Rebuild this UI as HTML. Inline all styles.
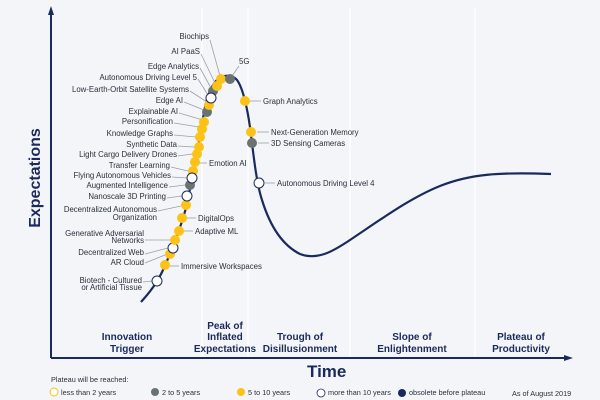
<!DOCTYPE html>
<html><head><meta charset="utf-8"><style>
html,body{margin:0;padding:0;background:#f3f5f8;}
svg{display:block;font-family:"Liberation Sans",sans-serif;}
.l{font-size:7.8px;fill:#2a2f3a;}
.p{font-size:10px;font-weight:bold;fill:#1b2a5c;text-anchor:middle;}
.g{font-size:7.3px;fill:#2a2f3a;}
</style></head><body>
<svg width="600" height="400" viewBox="0 0 600 400">
<rect width="600" height="400" fill="#f3f5f8"/>
<g stroke="#ffffff" stroke-width="1.5">
<line x1="202" y1="8" x2="202" y2="357"/><line x1="248" y1="8" x2="248" y2="357"/>
<line x1="350" y1="8" x2="350" y2="357"/><line x1="475" y1="8" x2="475" y2="357"/>
</g>
<g stroke="#1b2a5c" stroke-width="2" fill="none">
<line x1="51" y1="10" x2="51" y2="358"/><line x1="51" y1="358" x2="568" y2="358"/>
</g>
<polygon points="51,6 48,15 54,15" fill="#1b2a5c"/>
<polygon points="573,358 564,355 564,361" fill="#1b2a5c"/>
<path d="M141,302 C150,292 157,283 163,270 C172,250 180,230 186,208 C192,180 198,150 203,118 C206,100 210,86 218,79 C223,75 232,74 237,80 C243,88 248,110 251,135 C254,160 257,185 262,200 C270,226 282,245 300,254 C318,261 335,250 350,240 C380,220 410,198 440,186 C470,174 500,172 551,174" fill="none" stroke="#1b2a5c" stroke-width="2.2"/>
<g stroke="#9aa0a8" stroke-width="0.8">
<line x1="210" y1="40" x2="220" y2="76"/><line x1="201" y1="54" x2="215" y2="83"/>
<line x1="200" y1="68" x2="211" y2="88"/><line x1="198" y1="79" x2="208" y2="95"/>
<line x1="190" y1="91" x2="207" y2="102"/><line x1="184" y1="102" x2="204" y2="110"/>
<line x1="179" y1="113" x2="203" y2="120"/><line x1="174" y1="123" x2="199" y2="127"/>
<line x1="174" y1="135" x2="196" y2="137"/><line x1="178" y1="146" x2="194" y2="147"/>
<line x1="178" y1="156" x2="192" y2="154"/><line x1="171" y1="167" x2="188" y2="171"/>
<line x1="172" y1="177" x2="187" y2="178"/><line x1="169" y1="187" x2="185" y2="185"/>
<line x1="167" y1="198" x2="182" y2="196"/><line x1="158" y1="211" x2="181" y2="206"/>
<line x1="145" y1="240" x2="170" y2="240"/><line x1="145" y1="254" x2="168" y2="248"/>
<line x1="145" y1="263" x2="165" y2="255"/><line x1="143" y1="282" x2="152" y2="281"/>
<line x1="239" y1="66" x2="232" y2="76"/><line x1="199" y1="163" x2="207" y2="163"/>
<line x1="250" y1="101" x2="261" y2="101"/><line x1="257" y1="132" x2="269" y2="132"/>
<line x1="258" y1="143" x2="269" y2="143"/><line x1="265" y1="183" x2="275" y2="183"/>
<line x1="187" y1="218" x2="196" y2="218"/><line x1="184" y1="231" x2="193" y2="231"/>
<line x1="170" y1="266" x2="179" y2="266"/>
</g>
<g stroke-width="1">
<circle cx="157" cy="281" r="5" fill="#fff" stroke="#1b2a5c"/>
<circle cx="165" cy="265" r="5" fill="#fcc216"/>
<circle cx="170" cy="254" r="5" fill="#fcc216"/>
<circle cx="173" cy="248" r="5" fill="#fff" stroke="#1b2a5c"/>
<circle cx="175" cy="240" r="5" fill="#fcc216"/>
<circle cx="179" cy="231" r="5" fill="#fcc216"/>
<circle cx="182" cy="218" r="5" fill="#fcc216"/>
<circle cx="186" cy="205" r="5" fill="#fcc216"/>
<circle cx="187" cy="196" r="5" fill="#fff" stroke="#1b2a5c"/>
<circle cx="190" cy="185" r="5" fill="#6b7274"/>
<circle cx="193" cy="171" r="5" fill="#fcc216"/>
<circle cx="192" cy="178" r="5" fill="#fff" stroke="#1b2a5c"/>
<circle cx="195" cy="162" r="5" fill="#fcc216"/>
<circle cx="197" cy="154" r="5" fill="#fcc216"/>
<circle cx="199" cy="147" r="5" fill="#fcc216"/>
<circle cx="200" cy="137" r="5" fill="#fcc216"/>
<circle cx="202" cy="129" r="5" fill="#fcc216"/>
<circle cx="204" cy="122" r="5" fill="#fcc216"/>
<circle cx="207" cy="112" r="5" fill="#6b7274"/>
<circle cx="209" cy="105" r="5" fill="#fcc216"/>
<circle cx="213" cy="91" r="5" fill="#6b7274"/>
<circle cx="211" cy="98" r="5" fill="#fff" stroke="#1b2a5c"/>
<circle cx="217" cy="86" r="5" fill="#fcc216"/>
<circle cx="221" cy="79" r="5" fill="#fcc216"/>
<circle cx="230" cy="79" r="5" fill="#6b7274"/>
<circle cx="245" cy="101" r="5" fill="#fcc216"/>
<circle cx="251" cy="132" r="5" fill="#fcc216"/>
<circle cx="252" cy="143" r="5" fill="#6b7274"/>
<circle cx="259" cy="183" r="5" fill="#fff" stroke="#1b2a5c"/>
</g>
<g class="l" text-anchor="end">
<text x="209" y="39">Biochips</text><text x="200" y="54">AI PaaS</text>
<text x="199" y="69">Edge Analytics</text><text x="197" y="80">Autonomous Driving Level 5</text>
<text x="189" y="92">Low-Earth-Orbit Satellite Systems</text><text x="183" y="103">Edge AI</text>
<text x="178" y="114">Explainable AI</text><text x="173" y="124">Personification</text>
<text x="173" y="136">Knowledge Graphs</text><text x="177" y="147">Synthetic Data</text>
<text x="177" y="157">Light Cargo Delivery Drones</text><text x="170" y="168">Transfer Learning</text>
<text x="171" y="178">Flying Autonomous Vehicles</text><text x="168" y="188">Augmented Intelligence</text>
<text x="166" y="199">Nanoscale 3D Printing</text>
<text x="157" y="212">Decentralized Autonomous</text><text x="157" y="220">Organization</text>
<text x="144" y="236">Generative Adversarial</text><text x="144" y="243">Networks</text>
<text x="144" y="255">Decentralized Web</text><text x="144" y="265">AR Cloud</text>
<text x="142" y="283">Biotech - Cultured</text><text x="142" y="290">or Artificial Tissue</text>
</g>
<g class="l">
<text x="239" y="64">5G</text><text x="209" y="166">Emotion AI</text>
<text x="263" y="104">Graph Analytics</text><text x="271" y="135">Next-Generation Memory</text>
<text x="271" y="146">3D Sensing Cameras</text><text x="277" y="186">Autonomous Driving Level 4</text>
<text x="198" y="221">DigitalOps</text><text x="195" y="234">Adaptive ML</text>
<text x="181" y="269">Immersive Workspaces</text>
</g>
<text class="p" x="127" y="340">Innovation</text><text class="p" x="127" y="352">Trigger</text>
<text class="p" x="225" y="329">Peak of</text><text class="p" x="225" y="340">Inflated</text><text class="p" x="225" y="352">Expectations</text>
<text class="p" x="300" y="340">Trough of</text><text class="p" x="300" y="352">Disillusionment</text>
<text class="p" x="412" y="340">Slope of</text><text class="p" x="412" y="352">Enlightenment</text>
<text class="p" x="521" y="340">Plateau of</text><text class="p" x="521" y="352">Productivity</text>
<text x="307" y="377" font-size="17" font-weight="bold" fill="#1b2a5c">Time</text>
<text transform="translate(40,178) rotate(-90)" text-anchor="middle" font-size="16" font-weight="bold" fill="#1b2a5c">Expectations</text>
<text class="g" x="51" y="382">Plateau will be reached:</text>
<circle cx="54" cy="392" r="4" fill="#fff" stroke="#fcc216" stroke-width="1"/><text class="g" x="61" y="395">less than 2 years</text>
<circle cx="155" cy="392" r="4" fill="#6b7274"/><text class="g" x="162" y="395">2 to 5 years</text>
<circle cx="241" cy="392" r="4" fill="#fcc216"/><text class="g" x="248" y="395">5 to 10 years</text>
<circle cx="321" cy="393" r="4" fill="#fff" stroke="#1b2a5c" stroke-width="0.8"/><text class="g" x="328" y="395">more than 10 years</text>
<circle cx="402" cy="393" r="4" fill="#1b2a5c"/><text class="g" x="409" y="395">obsolete before plateau</text>
<text class="g" x="512" y="396">As of August 2019</text>
</svg>
</body></html>
